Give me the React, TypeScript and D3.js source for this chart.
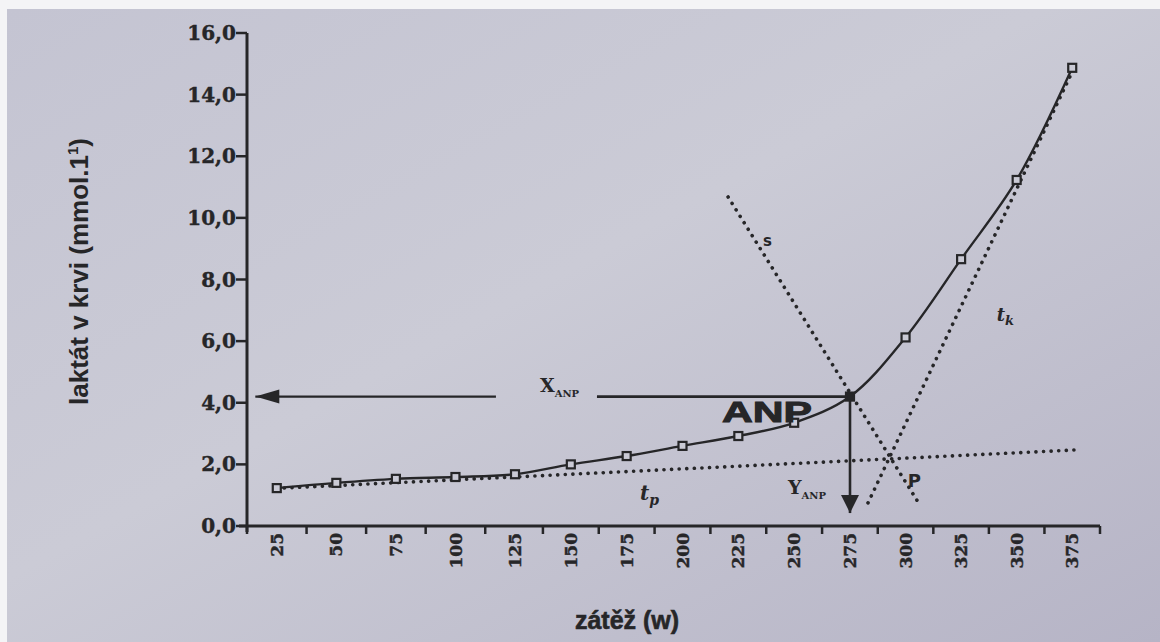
import React, { useEffect, useRef } from "react";
import * as d3 from "d3";

// load steps (W) and measured blood lactate (mmol/l)
const loads = [25, 50, 75, 100, 125, 150, 175, 200, 225, 250, 275, 300, 325, 350, 375];
const lactate = [1.23, 1.4, 1.53, 1.59, 1.68, 2.0, 2.27, 2.6, 2.92, 3.35, 4.2, 6.12, 8.66, 11.23, 14.87];
const yTicks = [0, 2, 4, 6, 8, 10, 12, 14, 16];
const anpLoad = 275;
const anpValue = 4.2;

// dotted construction lines [load, lactate]
const lineTp = [[25, 1.22], [377, 2.47]];
const lineS = [[220.4, 10.68], [305.6, 0.78]];
const lineTk = [[283.1, 0.75], [375, 14.74]];
// arrows and label anchors
const arrowLeft = [[117, anpValue], [16, anpValue]];
const xAnpLine = [[161.7, anpValue], [anpLoad, anpValue]];
const arrowDown = [[anpLoad, anpValue], [anpLoad, 0.42]];

const fmt = (v: number) => v.toFixed(1).replace(".", ",");

const App = () => {
  const svgRef = useRef<SVGSVGElement>(null);

  useEffect(() => {
    const svg = d3.select(svgRef.current);
    svg.selectAll("*").remove();

    const ink = "#262628";

    // scan is slightly stretched, so the load axis is piecewise
    const x = d3.scaleLinear().domain([12.5, 125, 275, 387.5]).range([247, 515, 850, 1100]);
    const y = d3.scaleLinear().domain([0, 16]).range([526, 33]);

    const defs = svg.append("defs");
    const grad = defs.append("linearGradient").attr("id", "paper").attr("x1", 0).attr("y1", 0).attr("x2", 1).attr("y2", 1);
    grad.append("stop").attr("offset", "0%").attr("stop-color", "#c4c4d2");
    grad.append("stop").attr("offset", "45%").attr("stop-color", "#cbcbd6");
    grad.append("stop").attr("offset", "100%").attr("stop-color", "#b6b4c6");

    svg.append("rect").attr("width", 1160).attr("height", 642).attr("fill", "#f4f4f6");
    svg.append("rect").attr("x", 7).attr("y", 9).attr("width", 1153).attr("height", 633).attr("fill", "url(#paper)");

    // axes
    svg.append("line").attr("x1", x(12.5)).attr("x2", x(12.5)).attr("y1", y(16)).attr("y2", y(0) + 6)
      .attr("stroke", ink).attr("stroke-width", 3);
    svg.append("line").attr("x1", x(12.5) - 8).attr("x2", x(387.5)).attr("y1", y(0)).attr("y2", y(0))
      .attr("stroke", ink).attr("stroke-width", 3);

    const yAxis = svg.append("g");
    yTicks.forEach((t) => {
      yAxis.append("line").attr("x1", x(12.5) - 11).attr("x2", x(12.5)).attr("y1", y(t)).attr("y2", y(t))
        .attr("stroke", ink).attr("stroke-width", 2.5);
      yAxis.append("text").attr("x", x(12.5) - 11).attr("y", y(t)).attr("dy", "0.35em")
        .attr("text-anchor", "end").attr("font-family", "DejaVu Serif").attr("font-weight", "bold")
        .attr("font-size", 20).attr("fill", ink).attr("stroke", ink).attr("stroke-width", 0.4).text(fmt(t));
    });

    const xAxis = svg.append("g");
    [0, ...loads].forEach((l) => {
      xAxis.append("line").attr("x1", x(l + 12.5)).attr("x2", x(l + 12.5)).attr("y1", y(0)).attr("y2", y(0) + 8)
        .attr("stroke", ink).attr("stroke-width", 2.5);
    });
    loads.forEach((l) => {
      xAxis.append("text")
        .attr("transform", `translate(${x(l)},${y(0) + 7}) rotate(-90)`)
        .attr("dy", "0.36em").attr("text-anchor", "end")
        .attr("font-family", "DejaVu Serif").attr("font-weight", "bold").attr("font-size", 17)
        .attr("fill", ink).attr("stroke", ink).attr("stroke-width", 0.4).text(l);
    });

    // axis titles
    const yt = svg.append("text")
      .attr("transform", `translate(88,${(y(16) + y(0)) / 2 - 8}) rotate(-90)`)
      .attr("text-anchor", "middle").attr("font-family", "Liberation Sans").attr("font-weight", "bold")
      .attr("font-size", 26).attr("fill", ink);
    yt.append("tspan").text("laktát v krvi (mmol.1");
    yt.append("tspan").attr("dy", -10).attr("font-size", 15).text("1");
    yt.append("tspan").attr("dy", 10).text(")");

    svg.append("text").attr("x", 627).attr("y", 629).attr("text-anchor", "middle")
      .attr("font-family", "Liberation Sans").attr("font-weight", "bold").attr("font-size", 25)
      .attr("fill", ink).attr("stroke", ink).attr("stroke-width", 0.6).text("zátěž (w)");

    const seg = d3.line<number[]>().x((d) => x(d[0])).y((d) => y(d[1]));

    // dotted lines
    [lineTp, lineS, lineTk].forEach((ln) => {
      svg.append("path").attr("d", seg(ln)).attr("fill", "none").attr("stroke", ink)
        .attr("stroke-width", 3.6).attr("stroke-dasharray", "0.1 7.5").attr("stroke-linecap", "round");
    });

    // measured curve
    const pts = loads.map((l, i) => [l, lactate[i]]);
    const curve = d3.line<number[]>().x((d) => x(d[0])).y((d) => y(d[1])).curve(d3.curveCatmullRom.alpha(0.5));
    svg.append("path").attr("d", curve(pts)).attr("fill", "none").attr("stroke", ink).attr("stroke-width", 2.4);

    // arrows and ANP lines
    svg.append("path").attr("d", seg(xAnpLine)).attr("stroke", ink).attr("stroke-width", 2.6);
    svg.append("path").attr("d", seg(arrowLeft)).attr("stroke", ink).attr("stroke-width", 2.2);
    const lt = [x(arrowLeft[1][0]), y(arrowLeft[1][1])];
    svg.append("path").attr("d", `M${lt[0]},${lt[1]}l24,-7l0,14z`).attr("fill", ink);
    svg.append("path").attr("d", seg(arrowDown)).attr("stroke", ink).attr("stroke-width", 2.6);
    const dt = [x(arrowDown[1][0]), y(arrowDown[1][1])];
    svg.append("path").attr("d", `M${dt[0]},${dt[1]}l-9,-18l18,0z`).attr("fill", ink);

    // markers
    svg.selectAll(".pt").data(pts).join("rect").attr("class", "pt")
      .attr("x", (d) => x(d[0]) - 4).attr("y", (d) => y(d[1]) - 4)
      .attr("width", 8).attr("height", 8)
      .attr("fill", (d) => (d[0] === anpLoad ? ink : "#cacad5"))
      .attr("stroke", ink).attr("stroke-width", 2.2);

    // annotations
    svg.append("text").attr("x", x(anpLoad) - 38).attr("y", y(anpValue) + 25).attr("text-anchor", "end")
      .attr("font-family", "Liberation Sans").attr("font-weight", "bold").attr("font-size", 30)
      .attr("textLength", 90).attr("lengthAdjust", "spacingAndGlyphs").attr("fill", ink)
      .attr("stroke", ink).attr("stroke-width", 1).text("ANP");

    const xa = svg.append("text").attr("x", x(xAnpLine[0][0]) - 57).attr("y", y(anpValue) - 5)
      .attr("font-family", "DejaVu Serif").attr("font-weight", "bold").attr("font-size", 19).attr("fill", ink);
    xa.append("tspan").text("X");
    xa.append("tspan").attr("dy", 5).attr("font-size", 10).text("ANP");

    const ya = svg.append("text").attr("x", x(anpLoad) - 62).attr("y", y(1.05))
      .attr("font-family", "DejaVu Serif").attr("font-weight", "bold").attr("font-size", 19).attr("fill", ink);
    ya.append("tspan").text("Y");
    ya.append("tspan").attr("dy", 5).attr("font-size", 10).text("ANP");

    svg.append("text").attr("x", x(236)).attr("y", y(9.1)).attr("font-family", "DejaVu Sans")
      .attr("font-weight", "bold").attr("font-size", 15).attr("fill", ink).text("s");

    const tk = svg.append("text").attr("x", x(341)).attr("y", y(6.65)).attr("font-family", "DejaVu Serif")
      .attr("font-style", "italic").attr("font-weight", "bold").attr("font-size", 18).attr("fill", ink);
    tk.append("tspan").text("t");
    tk.append("tspan").attr("dy", 4).attr("font-size", 13).text("k");

    const tp = svg.append("text").attr("x", x(181)).attr("y", y(0.85)).attr("font-family", "DejaVu Serif")
      .attr("font-style", "italic").attr("font-weight", "bold").attr("font-size", 20).attr("fill", ink);
    tp.append("tspan").text("t");
    tp.append("tspan").attr("dy", 5).attr("font-size", 14).text("p");

    svg.append("text").attr("x", x(301)).attr("y", y(1.25)).attr("font-family", "DejaVu Sans")
      .attr("font-weight", "bold").attr("font-size", 18).attr("fill", ink).text("P");
  }, []);

  return (
    <svg
      ref={svgRef}
      width={1160}
      height={642}
      style={{ position: "fixed", top: 0, left: 0 }}
    />
  );
};

export default App;
